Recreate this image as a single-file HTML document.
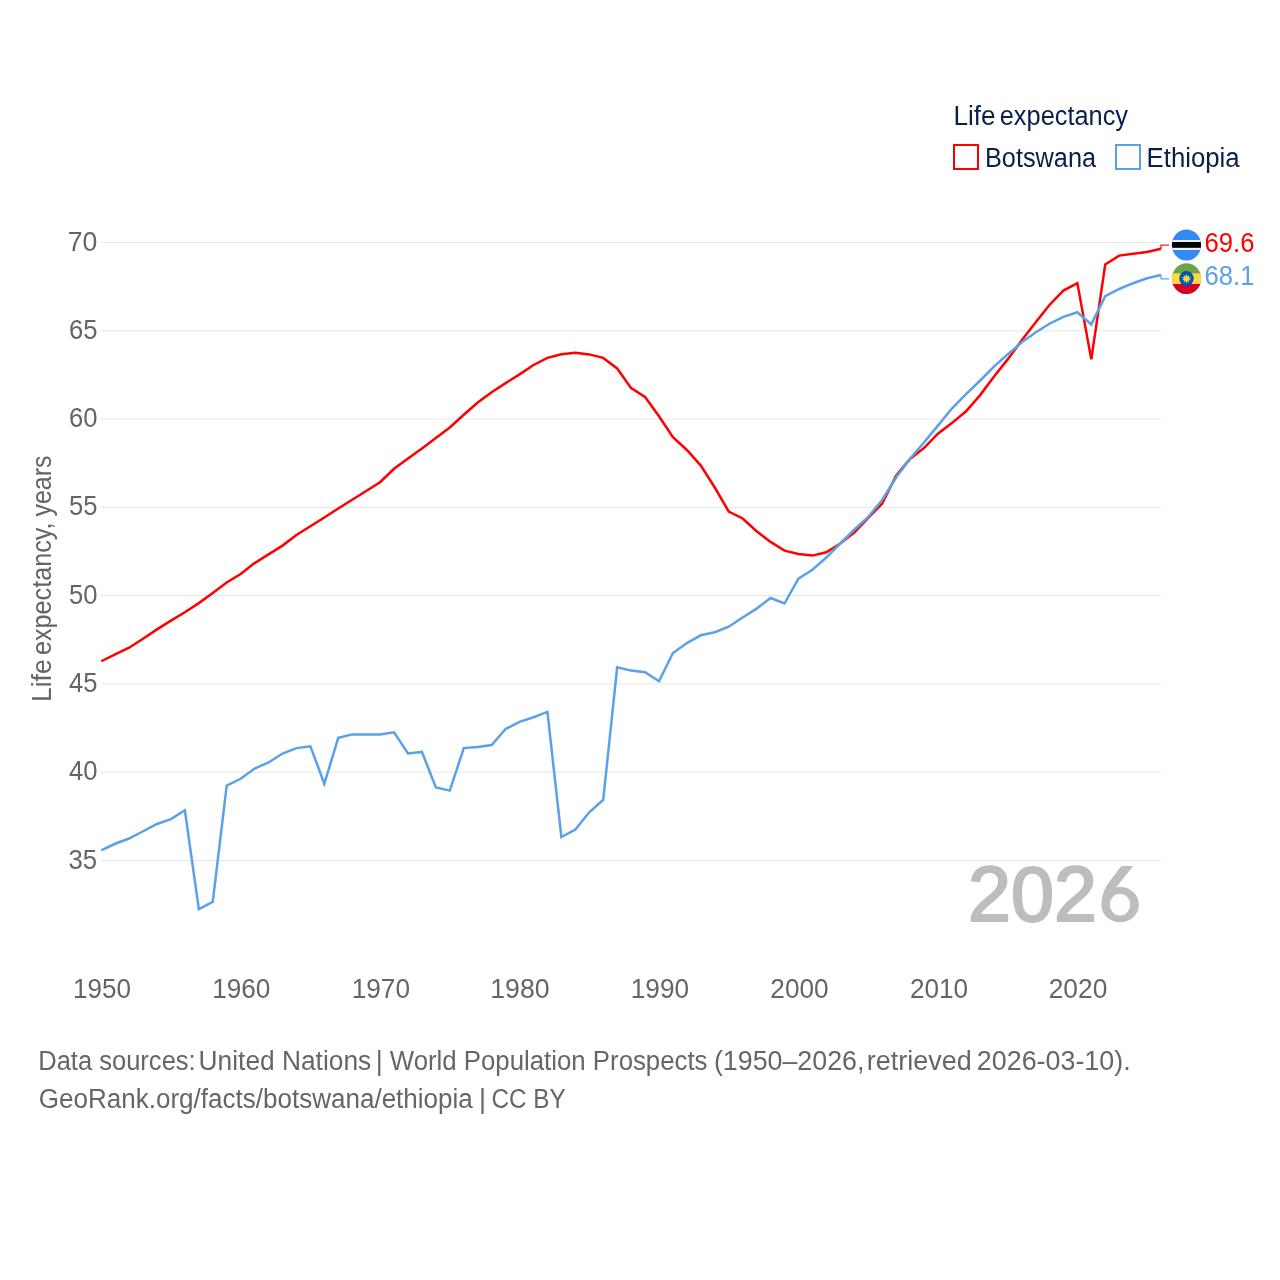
<!DOCTYPE html>
<html><head><meta charset="utf-8"><style>
html,body{margin:0;padding:0;background:#fff;}
svg{display:block;will-change:transform;}
text{font-family:"Liberation Sans",sans-serif;}
</style></head><body>
<svg width="1280" height="1280" viewBox="0 0 1280 1280">
<rect width="1280" height="1280" fill="#fff"/>
<g id="grid"><line x1="101" x2="1161" y1="242.45" y2="242.45" stroke="#e6e6e6" stroke-width="1"/>
<line x1="101" x2="1161" y1="330.74" y2="330.74" stroke="#e6e6e6" stroke-width="1"/>
<line x1="101" x2="1161" y1="419.04" y2="419.04" stroke="#e6e6e6" stroke-width="1"/>
<line x1="101" x2="1161" y1="507.33" y2="507.33" stroke="#e6e6e6" stroke-width="1"/>
<line x1="101" x2="1161" y1="595.62" y2="595.62" stroke="#e6e6e6" stroke-width="1"/>
<line x1="101" x2="1161" y1="683.91" y2="683.91" stroke="#e6e6e6" stroke-width="1"/>
<line x1="101" x2="1161" y1="772.21" y2="772.21" stroke="#e6e6e6" stroke-width="1"/>
<line x1="101" x2="1161" y1="860.50" y2="860.50" stroke="#e6e6e6" stroke-width="1"/></g>
<g id="txt"><text id="bots" x="985.00" y="166.70" font-size="27" fill="#08204a" textLength="111.00" lengthAdjust="spacingAndGlyphs">Botswana</text>
<text id="eth" x="1146.60" y="166.60" font-size="27" fill="#08204a" textLength="93.06" lengthAdjust="spacingAndGlyphs">Ethiopia</text>
<text id="y70" x="97.40" y="250.90" font-size="27" fill="#656565" text-anchor="end" textLength="29.64" lengthAdjust="spacingAndGlyphs">70</text>
<text id="y65" x="97.40" y="338.90" font-size="27" fill="#656565" text-anchor="end" textLength="28.50" lengthAdjust="spacingAndGlyphs">65</text>
<text id="y60" x="97.40" y="427.10" font-size="27" fill="#656565" text-anchor="end" textLength="28.50" lengthAdjust="spacingAndGlyphs">60</text>
<text id="y55" x="97.40" y="515.40" font-size="27" fill="#656565" text-anchor="end" textLength="28.50" lengthAdjust="spacingAndGlyphs">55</text>
<text id="y50" x="97.40" y="603.60" font-size="27" fill="#656565" text-anchor="end" textLength="28.50" lengthAdjust="spacingAndGlyphs">50</text>
<text id="y45" x="97.40" y="691.90" font-size="27" fill="#656565" text-anchor="end" textLength="28.50" lengthAdjust="spacingAndGlyphs">45</text>
<text id="y40" x="97.40" y="780.20" font-size="27" fill="#656565" text-anchor="end" textLength="28.50" lengthAdjust="spacingAndGlyphs">40</text>
<text id="y35" x="97.10" y="868.60" font-size="27" fill="#656565" text-anchor="end" textLength="28.68" lengthAdjust="spacingAndGlyphs">35</text>
<text id="x1950" x="73.10" y="998.00" font-size="27" fill="#656565" textLength="57.96" lengthAdjust="spacingAndGlyphs">1950</text>
<text id="x2020" x="1048.70" y="998.00" font-size="27" fill="#656565" textLength="58.61" lengthAdjust="spacingAndGlyphs">2020</text>
<text id="big" x="968.10" y="921.20" font-size="77" fill="#bdbdbd" textLength="128.92" lengthAdjust="spacingAndGlyphs" stroke="#bdbdbd" stroke-width="2.2" stroke-linejoin="round">202</text>
<text id="v1" x="1204.60" y="252.00" font-size="27" fill="#ff0000" textLength="49.89" lengthAdjust="spacingAndGlyphs">69.6</text>
<text id="v2" x="1204.60" y="285.10" font-size="27" fill="#5aa1e8" textLength="49.87" lengthAdjust="spacingAndGlyphs">68.1</text>
<text id="f1a" x="38.20" y="1069.50" font-size="27" fill="#666666" textLength="157.51" lengthAdjust="spacingAndGlyphs">Data sources:</text>
<text id="f1b" x="198.60" y="1069.50" font-size="27" fill="#666666" textLength="172.63" lengthAdjust="spacingAndGlyphs">United Nations</text>
<text id="f1c" x="375.70" y="1069.50" font-size="27" fill="#666666">|</text>
<text id="f1d" x="389.80" y="1069.50" font-size="27" fill="#666666" textLength="317.71" lengthAdjust="spacingAndGlyphs">World Population Prospects</text>
<text id="f1e" x="713.90" y="1069.50" font-size="27" fill="#666666" textLength="150.56" lengthAdjust="spacingAndGlyphs">(1950–2026,</text>
<text id="f1f" x="866.70" y="1069.50" font-size="27" fill="#666666" textLength="104.95" lengthAdjust="spacingAndGlyphs">retrieved</text>
<text id="f1g" x="976.80" y="1069.50" font-size="27" fill="#666666" textLength="153.86" lengthAdjust="spacingAndGlyphs">2026-03-10).</text>
<text id="f2a" x="38.80" y="1108.00" font-size="27" fill="#666666" textLength="434.00" lengthAdjust="spacingAndGlyphs">GeoRank.org/facts/botswana/ethiopia</text>
<text id="f2b" x="479.00" y="1108.00" font-size="27" fill="#666666">|</text>
<text id="f2c" x="491.50" y="1108.00" font-size="27" fill="#666666" textLength="74.32" lengthAdjust="spacingAndGlyphs">CC BY</text>
<text id="lta" x="953.40" y="125.00" font-size="27" fill="#08204a" textLength="42.11" lengthAdjust="spacingAndGlyphs">Life</text>
<text id="ltb" x="999.75" y="125.00" font-size="27" fill="#08204a" textLength="128.26" lengthAdjust="spacingAndGlyphs">expectancy</text>
<text id="x1960" x="212.15" y="998.00" font-size="27" fill="#656565" textLength="58.26" lengthAdjust="spacingAndGlyphs">1960</text>
<text id="x1970" x="351.70" y="998.00" font-size="27" fill="#656565" textLength="58.28" lengthAdjust="spacingAndGlyphs">1970</text>
<text id="x1980" x="490.25" y="998.00" font-size="27" fill="#656565" textLength="59.34" lengthAdjust="spacingAndGlyphs">1980</text>
<text id="x1990" x="630.80" y="998.00" font-size="27" fill="#656565" textLength="58.25" lengthAdjust="spacingAndGlyphs">1990</text>
<text id="x2000" x="770.35" y="998.00" font-size="27" fill="#656565" textLength="58.28" lengthAdjust="spacingAndGlyphs">2000</text>
<text id="x2010" x="909.90" y="998.00" font-size="27" fill="#656565" textLength="58.25" lengthAdjust="spacingAndGlyphs">2010</text>
<text id="yta" x="51.20" y="702.00" font-size="27" fill="#656565" textLength="42.69" lengthAdjust="spacingAndGlyphs" transform="rotate(-90 51.20 702.00)">Life</text>
<text id="ytb" x="51.20" y="655.00" font-size="27" fill="#656565" textLength="132.55" lengthAdjust="spacingAndGlyphs" transform="rotate(-90 51.20 655.00)">expectancy,</text>
<text id="ytc" x="51.20" y="516.50" font-size="27" fill="#656565" textLength="61.03" lengthAdjust="spacingAndGlyphs" transform="rotate(-90 51.20 516.50)">years</text></g>
<g id="lines" fill="none" stroke-width="2.5" stroke-linejoin="miter" stroke-miterlimit="4" stroke-linecap="butt">
<polyline points="101.20,661.25 115.15,654.40 129.09,647.75 143.03,638.75 156.98,629.40 170.93,620.60 184.87,612.25 198.81,603.10 212.76,593.10 226.70,582.50 240.65,574.00 254.60,563.10 268.54,554.40 282.49,545.60 296.43,535.00 310.38,526.25 324.32,517.50 338.26,508.50 352.21,499.75 366.15,491.00 380.10,482.25 394.05,468.75 407.99,458.50 421.94,448.50 435.88,437.90 449.82,427.50 463.77,414.75 477.71,402.50 491.66,392.25 505.61,383.10 519.55,374.40 533.50,365.00 547.44,357.90 561.38,354.30 575.33,352.75 589.27,354.40 603.22,357.90 617.17,368.50 631.11,388.10 645.06,396.90 659.00,416.25 672.95,437.25 686.89,450.00 700.84,465.60 714.78,487.50 728.73,511.50 742.67,518.50 756.62,531.25 770.56,541.90 784.51,550.60 798.45,554.00 812.40,555.60 826.34,552.25 840.29,543.50 854.23,532.50 868.18,517.80 882.12,503.75 896.07,475.60 910.01,459.00 923.96,448.10 937.90,433.75 951.85,423.10 965.79,411.50 979.74,395.60 993.68,377.00 1007.63,359.40 1021.57,340.60 1035.52,322.50 1049.46,305.00 1063.40,290.60 1077.35,283.10 1091.30,359.40 1105.24,264.40 1119.18,255.60 1133.13,253.80 1147.08,252.00 1161.02,248.75" stroke="#ff0000"/>
<polyline points="101.20,850.40 115.15,843.75 129.09,838.50 143.03,831.25 156.98,824.00 170.93,819.10 184.87,810.25 198.81,909.00 212.76,901.90 226.70,785.60 240.65,778.75 254.60,768.50 268.54,762.50 282.49,753.50 296.43,748.10 310.38,746.25 324.32,783.75 338.26,737.90 352.21,734.40 366.15,734.40 380.10,734.40 394.05,732.25 407.99,753.50 421.94,751.90 435.88,787.50 449.82,790.60 463.77,748.10 477.71,746.90 491.66,745.00 505.61,729.00 519.55,721.90 533.50,717.25 547.44,711.90 561.38,837.10 575.33,829.50 589.27,812.30 603.22,799.80 617.17,667.25 631.11,670.60 645.06,672.25 659.00,681.25 672.95,653.00 686.89,643.10 700.84,635.30 714.78,632.20 728.73,626.70 742.67,617.50 756.62,608.60 770.56,598.00 784.51,603.50 798.45,578.75 812.40,569.75 826.34,557.50 840.29,543.50 854.23,529.75 868.18,517.00 882.12,500.00 896.07,477.50 910.01,458.75 923.96,442.50 937.90,425.60 951.85,408.50 965.79,394.40 979.74,381.00 993.68,366.90 1007.63,354.40 1021.57,342.50 1035.52,332.50 1049.46,323.75 1063.40,316.90 1077.35,312.25 1091.30,324.40 1105.24,296.25 1119.18,289.00 1133.13,283.20 1147.08,278.30 1161.02,275.00" stroke="#5aa1e8"/>
<polyline points="1161,248.75 1161,245.1 1169,245.1" stroke="#ff1a1a" stroke-width="1.3"/>
<polyline points="1161,275 1161,278.8 1169,278.8" stroke="#62a6ea" stroke-width="1.3"/>
</g>
<g id="six" fill="#bdbdbd">
<path fill-rule="evenodd" d="M1101.3,904.65 a18.8,17.65 0 1,0 37.6,0 a18.8,17.65 0 1,0 -37.6,0 Z M1109.8,904.6 a10.2,10.9 0 1,0 20.4,0 a10.2,10.9 0 1,0 -20.4,0 Z"/>
<path d="M1123.2,866 L1133.2,866 L1115.1,888.8 L1106,895 L1101.75,901 C1102.3,894 1104.8,888.5 1108,883.5 L1119.5,868.2 C1120.5,866.8 1121.8,866 1123.2,866 Z"/>
</g>
<g id="flags">
<clipPath id="cbw"><ellipse cx="1186.5" cy="245.0" rx="14.6" ry="15.5"/></clipPath>
<clipPath id="cet"><ellipse cx="1186.5" cy="278.7" rx="14.6" ry="15.4"/></clipPath>
<g clip-path="url(#cbw)">
 <rect x="1170.5" y="229.0" width="32" height="32" fill="#338af3"/>
 <rect x="1170.5" y="240.0" width="32" height="10" fill="#f0f0f0"/>
 <rect x="1170.5" y="242.0" width="32" height="5.8" fill="#000"/>
</g>
<g clip-path="url(#cet)">
 <rect x="1170.5" y="262.7" width="32" height="32" fill="#6da544"/>
 <rect x="1170.5" y="273.4" width="32" height="10.6" fill="#ffda44"/>
 <rect x="1170.5" y="284.0" width="32" height="12" fill="#d80027"/>
 <ellipse cx="1186.5" cy="278.59999999999997" rx="7.2" ry="7.5" fill="#0052b4"/>
 <polygon points="1186.50,273.40 1187.24,276.42 1189.62,274.41 1188.44,277.29 1191.54,277.06 1188.90,278.70 1191.54,280.34 1188.44,280.11 1189.62,282.99 1187.24,280.98 1186.50,284.00 1185.76,280.98 1183.38,282.99 1184.56,280.11 1181.46,280.34 1184.10,278.70 1181.46,277.06 1184.56,277.29 1183.38,274.41 1185.76,276.42" fill="#ffda44"/>
</g>
</g>
<g id="legend" fill="none" stroke-width="2">
<rect x="954" y="145" width="24" height="24" stroke="#ff0000"/>
<rect x="1116" y="145" width="24" height="24" stroke="#5aa1e8"/>
</g>
</svg>
</body></html>
